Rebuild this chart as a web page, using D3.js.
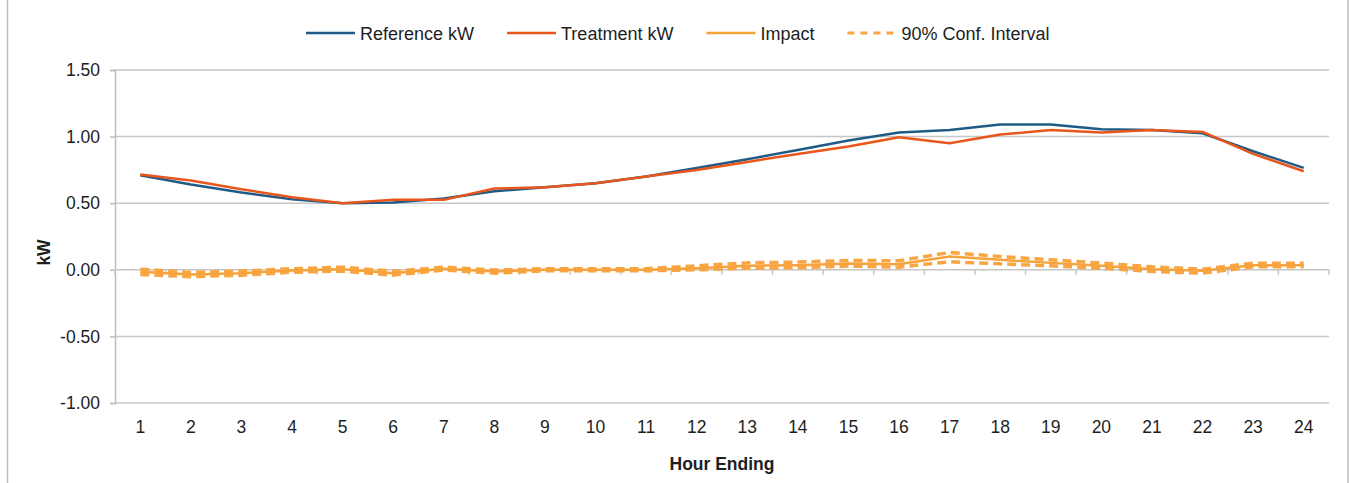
<!DOCTYPE html>
<html>
<head>
<meta charset="utf-8">
<script src="https://cdn.jsdelivr.net/npm/d3@7/dist/d3.min.js"></script>
<style>
  html, body { margin: 0; padding: 0; background: #fff; }
  svg { display: block; font-family: "Liberation Sans", Arial, sans-serif; }
</style>
</head>
<body>
<svg id="chart" width="1352" height="483"></svg>
<script>
// Hourly load profile: reference vs treatment, with impact and its 90% interval
const hours = d3.range(1, 25);
const referenceKW = [0.71, 0.64, 0.58, 0.53, 0.50, 0.505, 0.535, 0.59, 0.62, 0.65, 0.70, 0.765,
                     0.83, 0.90, 0.97, 1.03, 1.05, 1.09, 1.09, 1.055, 1.05, 1.025, 0.89, 0.765];
const treatmentKW = [0.715, 0.67, 0.605, 0.545, 0.50, 0.525, 0.525, 0.61, 0.62, 0.65, 0.70, 0.75,
                     0.81, 0.87, 0.925, 0.995, 0.95, 1.015, 1.05, 1.03, 1.05, 1.035, 0.87, 0.74];
const impactKW = [-0.015, -0.035, -0.025, -0.005, 0.005, -0.025, 0.008, -0.012, 0.0, 0.0, 0.0, 0.012,
                  0.03, 0.035, 0.048, 0.042, 0.10, 0.075, 0.052, 0.03, 0.005, -0.008, 0.035, 0.035];
const ciUpper = [0.005, -0.02, -0.01, 0.008, 0.02, -0.012, 0.02, -0.002, 0.008, 0.008, 0.008, 0.03,
                 0.052, 0.058, 0.07, 0.068, 0.13, 0.10, 0.075, 0.05, 0.022, 0.005, 0.05, 0.05];
const ciLower = [-0.035, -0.052, -0.04, -0.018, -0.01, -0.04, -0.002, -0.025, -0.008, -0.008, -0.008, 0.0,
                 0.012, 0.015, 0.028, 0.02, 0.06, 0.045, 0.03, 0.012, -0.012, -0.025, 0.022, 0.022];
const yTicks = [-1.0, -0.5, 0.0, 0.5, 1.0, 1.5];
const legendLabels = ["Reference kW", "Treatment kW", "Impact", "90% Conf. Interval"];

const colors = {
  ref: "#1F5B86",
  trt: "#E8561C",
  imp: "#F7A33C",
  ci: "#F9A543"
};
const textColor = "#1e1e1e";

const svg = d3.select("#chart");
const plot = { left: 115, right: 1329, top: 70, bottom: 403 };

// outer chart frame
svg.append("rect")
  .attr("x", 7.5).attr("y", -5).attr("width", 1340.5).attr("height", 500)
  .attr("fill", "#fff").attr("stroke", "#bdbdbd").attr("stroke-width", 1.5);

const x = d3.scaleBand().domain(hours).range([plot.left, plot.right]).paddingInner(0).paddingOuter(0);
const y = d3.scaleLinear().domain([-1, 1.5]).range([plot.bottom, plot.top]);
const cx = h => x(h) + x.bandwidth() / 2;
const fmt = v => d3.format(".2f")(v).replace("\u2212", "-");

// horizontal gridlines
svg.append("g").selectAll("line").data(yTicks.filter(t => t !== 0)).join("line")
  .attr("x1", plot.left).attr("x2", plot.right)
  .attr("y1", d => y(d)).attr("y2", d => y(d))
  .attr("stroke", "#c6c6c6").attr("stroke-width", 1.5);

// y axis
const yAxis = svg.append("g").attr("transform", `translate(${plot.left},0)`)
  .call(d3.axisLeft(y).tickValues(yTicks).tickFormat(fmt).tickSize(5).tickPadding(10));
yAxis.select(".domain").attr("stroke", "#bdbdbd").attr("stroke-width", 1.5);
yAxis.selectAll(".tick line").attr("stroke", "#bdbdbd").attr("stroke-width", 1.5);
yAxis.selectAll(".tick text").attr("font-size", 17.5).attr("fill", textColor)
  .attr("font-family", "Liberation Sans, Arial, sans-serif");

// category axis sits on the zero line
const xAxisLine = svg.append("g");
xAxisLine.append("line")
  .attr("x1", plot.left).attr("x2", plot.right)
  .attr("y1", y(0)).attr("y2", y(0))
  .attr("stroke", "#c6c6c6").attr("stroke-width", 1.5);
xAxisLine.selectAll("line.tk").data(d3.range(0, 25)).join("line").attr("class", "tk")
  .attr("x1", i => plot.left + i * x.bandwidth()).attr("x2", i => plot.left + i * x.bandwidth())
  .attr("y1", y(0)).attr("y2", y(0) + 5)
  .attr("stroke", "#c6c6c6").attr("stroke-width", 1.5);

// hour labels along the bottom
svg.append("g").selectAll("text").data(hours).join("text")
  .attr("x", d => cx(d)).attr("y", 433)
  .attr("text-anchor", "middle").attr("font-size", 17.5).attr("fill", textColor)
  .text(d => d);

// axis titles
svg.append("text")
  .attr("x", (plot.left + plot.right) / 2).attr("y", 470)
  .attr("text-anchor", "middle").attr("font-size", 17.5).attr("font-weight", "bold").attr("fill", textColor)
  .text("Hour Ending");
svg.append("text")
  .attr("transform", `translate(50,${y(0.13)}) rotate(-90)`)
  .attr("text-anchor", "middle").attr("font-size", 17.5).attr("font-weight", "bold").attr("fill", textColor)
  .text("kW");

// series lines
const line = d3.line().x((d, i) => cx(hours[i])).y(d => y(d)).curve(d3.curveLinear);
const series = [
  { vals: ciUpper, color: colors.ci, dash: "9,5", w: 3.5 },
  { vals: ciLower, color: colors.ci, dash: "9,5", w: 3.5 },
  { vals: impactKW, color: colors.imp, dash: null, w: 2.5 },
  { vals: referenceKW, color: colors.ref, dash: null, w: 2.5 },
  { vals: treatmentKW, color: colors.trt, dash: null, w: 2.5 }
];
svg.append("g").selectAll("path").data(series).join("path")
  .attr("d", d => line(d.vals))
  .attr("fill", "none")
  .attr("stroke", d => d.color)
  .attr("stroke-width", d => d.w)
  .attr("stroke-dasharray", d => d.dash)
  .attr("stroke-linejoin", "round");

// legend
const legendItems = [
  { label: legendLabels[0], color: colors.ref, dash: null },
  { label: legendLabels[1], color: colors.trt, dash: null },
  { label: legendLabels[2], color: colors.imp, dash: null },
  { label: legendLabels[3], color: colors.ci, dash: "7,6" }
];
const legend = svg.append("g");
let lx = 306;
legendItems.forEach(item => {
  const g = legend.append("g").attr("transform", `translate(${lx},0)`);
  g.append("line").attr("x1", 0).attr("x2", 49).attr("y1", 33).attr("y2", 33)
    .attr("stroke", item.color).attr("stroke-width", item.dash ? 3 : 2.5)
    .attr("stroke-dasharray", item.dash);
  const t = g.append("text").attr("x", 54).attr("y", 39.5)
    .attr("font-size", 18).attr("fill", textColor).text(item.label);
  lx += 54 + t.node().getComputedTextLength() + 33;
});
</script>
</body>
</html>
